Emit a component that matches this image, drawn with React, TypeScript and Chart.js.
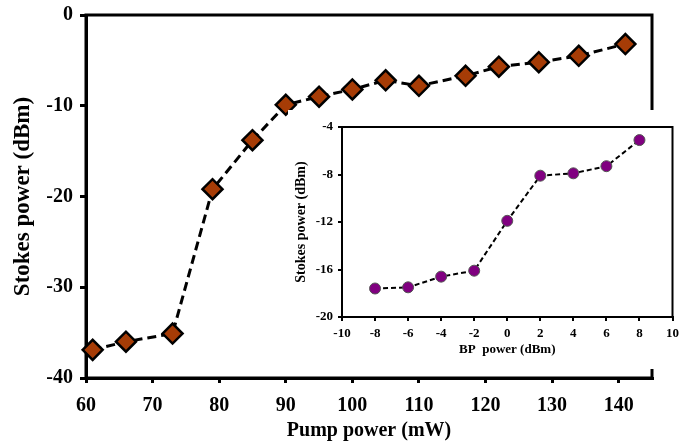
import React, { useEffect, useRef } from "react";
import { Chart, registerables } from "chart.js";

Chart.register(...registerables);

// Main chart data
const pumpPower = [61, 66, 73, 79, 85, 90, 95, 100, 105, 110, 117, 122, 128, 134, 141];
const stokesPower = [-36.9, -36.0, -35.1, -19.2, -13.8, -9.9, -9.0, -8.2, -7.2, -7.8, -6.7, -5.7, -5.2, -4.5, -3.2];

// Inset data
const bpPower = [-8, -6, -4, -2, 0, 2, 4, 6, 8];
const insetStokes = [-17.6, -17.5, -16.6, -16.1, -11.9, -8.1, -7.9, -7.3, -5.1];

const FONT = "'Liberation Serif', 'Times New Roman', serif";

const framePlugin = (w: number) => ({
  id: "frame",
  beforeDatasetsDraw(chart: any) {
    const { ctx, chartArea: a } = chart;
    ctx.save();
    ctx.strokeStyle = "#000";
    ctx.lineWidth = w;
    ctx.setLineDash([]);
    ctx.strokeRect(a.left, a.top, a.right - a.left, a.bottom - a.top);
    ctx.restore();
  },
});

const fitX = (h: number) => (s: any) => {
  s.height = h;
  s.paddingLeft = 0;
  s.paddingRight = 0;
};
const fitY = (w: number) => (s: any) => {
  s.width = w;
  s.paddingTop = 0;
  s.paddingBottom = 0;
};

export default function App() {
  const mainRef = useRef<HTMLCanvasElement>(null);
  const insetRef = useRef<HTMLCanvasElement>(null);

  useEffect(() => {
    const main = new Chart(mainRef.current!, {
      type: "line",
      data: {
        datasets: [
          {
            data: pumpPower.map((x, i) => ({ x, y: stokesPower[i] })),
            borderColor: "#000",
            borderWidth: 3,
            borderDash: [9, 5],
            pointStyle: "rectRot",
            pointRadius: 10,
            pointBackgroundColor: "#A63C06",
            pointBorderColor: "#000",
            pointBorderWidth: 2.5,
            tension: 0,
            clip: false as any,
          },
        ],
      },
      options: {
        animation: false,
        responsive: false,
        devicePixelRatio: 1,
        layout: { padding: { top: 15, right: 27, left: 0, bottom: 0 } },
        plugins: { legend: { display: false }, tooltip: { enabled: false } },
        scales: {
          x: {
            type: "linear",
            min: 60,
            max: 145,
            afterFit: fitX(68),
            ticks: {
              stepSize: 10,
              includeBounds: false,
              color: "#000",
              padding: 11,
              maxRotation: 0,
              font: { family: FONT, size: 20, weight: "bold" },
            },
            grid: { drawOnChartArea: false, drawTicks: true, tickLength: 5, color: "#000", lineWidth: 3 },
            border: { display: true, color: "#000", width: 3 },
            title: {
              display: true,
              text: "Pump power (mW)",
              color: "#000",
              font: { family: FONT, size: 20, weight: "bold" },
              padding: { top: 0, bottom: 3 },
            },
          },
          y: {
            type: "linear",
            min: -40,
            max: 0,
            afterFit: fitY(86),
            ticks: {
              stepSize: 10,
              color: "#000",
              padding: 7,
              font: { family: FONT, size: 20, weight: "bold" },
            },
            grid: { drawOnChartArea: false, drawTicks: true, tickLength: 6, color: "#000", lineWidth: 3 },
            border: { display: true, color: "#000", width: 3 },
            title: {
              display: true,
              text: "Stokes power (dBm)",
              color: "#000",
              font: { family: FONT, size: 23, weight: "bold" },
              padding: { top: 9, bottom: 0 },
            },
          },
        },
      },
      plugins: [framePlugin(3)],
    });

    const inset = new Chart(insetRef.current!, {
      type: "line",
      data: {
        datasets: [
          {
            data: bpPower.map((x, i) => ({ x, y: insetStokes[i] })),
            borderColor: "#000",
            borderWidth: 2,
            borderDash: [5, 3],
            pointStyle: "circle",
            pointRadius: 5.5,
            pointBackgroundColor: "#800080",
            pointBorderColor: "#555",
            pointBorderWidth: 1,
            tension: 0,
          },
        ],
      },
      options: {
        animation: false,
        responsive: false,
        devicePixelRatio: 1,
        layout: { padding: { top: 17, right: 3, left: 0, bottom: 0 } },
        plugins: { legend: { display: false }, tooltip: { enabled: false } },
        scales: {
          x: {
            type: "linear",
            min: -10,
            max: 10,
            afterFit: fitX(52),
            ticks: {
              stepSize: 2,
              color: "#000",
              padding: 5,
              maxRotation: 0,
              autoSkip: false,
              font: { family: FONT, size: 13, weight: "bold" },
            },
            grid: { drawOnChartArea: false, drawTicks: true, tickLength: 4, color: "#000", lineWidth: 2 },
            border: { display: true, color: "#000", width: 2 },
            title: {
              display: true,
              text: "BP  power (dBm)",
              color: "#000",
              font: { family: FONT, size: 13, weight: "bold" },
              padding: { top: 0, bottom: 12 },
            },
          },
          y: {
            type: "linear",
            min: -20,
            max: -4,
            afterFit: fitY(54),
            ticks: {
              stepSize: 4,
              color: "#000",
              padding: 5,
              font: { family: FONT, size: 13, weight: "bold" },
            },
            grid: { drawOnChartArea: false, drawTicks: true, tickLength: 4, color: "#000", lineWidth: 2 },
            border: { display: true, color: "#000", width: 2 },
            title: {
              display: true,
              text: "Stokes power (dBm)",
              color: "#000",
              font: { family: FONT, size: 14, weight: "bold" },
              padding: { top: 5, bottom: 0 },
            },
          },
        },
      },
      plugins: [framePlugin(2)],
    });

    return () => {
      main.destroy();
      inset.destroy();
    };
  }, []);

  return (
    <div style={{ position: "absolute", left: 0, top: 0, width: 679, height: 446, overflow: "hidden", background: "#fff" }}>
      <canvas ref={mainRef} width={679} height={446} style={{ position: "absolute", left: 0, top: 0, width: 679, height: 446 }} />
      <div style={{ position: "absolute", left: 288, top: 110, width: 391, height: 259, background: "#fff" }}>
        <canvas ref={insetRef} width={391} height={259} style={{ position: "absolute", left: 0, top: 0, width: 391, height: 259 }} />
      </div>
    </div>
  );
}
